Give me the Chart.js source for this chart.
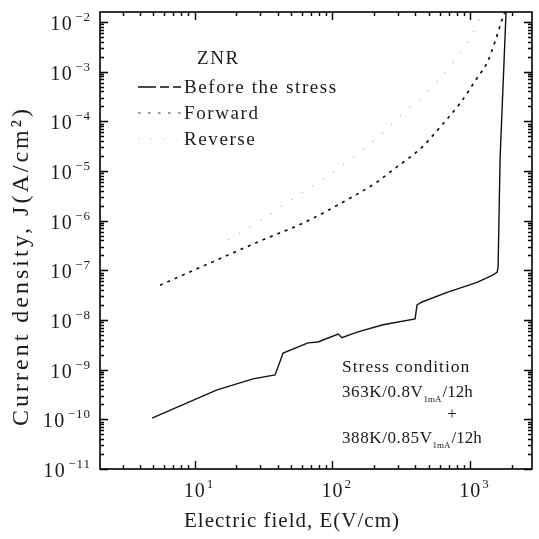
<!DOCTYPE html>
<html>
<head>
<meta charset="utf-8">
<script src="https://cdn.jsdelivr.net/npm/chart.js@4.4.1/dist/chart.umd.min.js"></script>
<style>
  html, body { margin: 0; padding: 0; background: #fff; }
  #wrap { width: 539px; height: 539px; position: relative; }
</style>
</head>
<body>
<div id="wrap"><canvas id="c" width="539" height="539"></canvas></div>
<script>
// Electric field E (V/cm) and current density J (A/cm^2) for the ZNR sample
const fieldBefore = [4.89, 14.5, 26.5, 38.3, 43.8, 66.4, 78.5, 110, 117, 151, 233, 398, 411, 447, 679, 1122, 1442, 1568, 1594, 1648, 1821];
const jBefore     = [1.06e-10, 3.9e-10, 6.5e-10, 7.8e-10, 2.15e-9, 3.45e-9, 3.6e-9, 5.2e-9, 4.4e-9, 5.7e-9, 8.0e-9, 1.05e-8, 2.0e-8, 2.3e-8, 3.6e-8, 5.7e-8, 7.9e-8, 9.1e-8, 1.15e-7, 1.8e-5, 1.58e-2];

const fieldForward = [5.59, 12.9, 31.3, 61.1, 119, 211, 262, 384, 447, 604, 844, 1122, 1326, 1515, 1703, 1791];
const jForward     = [5.0e-8, 1.4e-7, 4.1e-7, 8.9e-7, 2.35e-6, 6.0e-6, 9.5e-6, 2.1e-5, 3.0e-5, 7.6e-5, 2.3e-4, 7.4e-4, 1.5e-3, 4.0e-3, 1.1e-2, 1.58e-2];

const fieldReverse = [17.4, 26.1, 61.1, 91.2, 136, 187, 275, 320, 470, 1122, 1219];
const jReverse     = [4.1e-7, 7.8e-7, 3.8e-6, 7.6e-6, 1.74e-5, 3.5e-5, 9.1e-5, 1.4e-4, 3.5e-4, 8.7e-3, 1.58e-2];

const seriesNames = ['Before the stress', 'Forward', 'Reverse'];
const legendTitle = 'ZNR';

// Decade exponents that carry a "10^n" label
const xTickPowers = [1, 2, 3];
const yTickPowers = [-2, -3, -4, -5, -6, -7, -8, -9, -10, -11];

const xTitle = 'Electric field, E(V/cm)';
const yTitle = 'Current density, J(A/cm\u00B2)';

const noteTitle = 'Stress condition';
const noteLine1 = ['363K/0.8V', '1mA', '/12h'];
const noteJoin = '+';
const noteLine2 = ['388K/0.85V', '1mA', '/12h'];

const SERIF = '"Liberation Serif", "DejaVu Serif", serif';

function pts(xs, ys) { return xs.map((x, i) => ({ x: x, y: ys[i] })); }

const lineStyles = [
  { color: '#111', width: 1.4, dash: [] },
  { color: '#111', width: 1.7, dash: [3, 5] },
  { color: 'rgba(0,0,0,0.25)', width: 1.2, dash: [1.5, 11] }
];
const legendDash = [[18, 4, 9, 4], [2.5, 7.5], [1.5, 11]];
const legendColor = ['#111', 'rgba(0,0,0,0.55)', 'rgba(0,0,0,0.2)'];

// Frame, inward ticks on all four sides, and tick labels as 10^n
const frameTicks = {
  id: 'frameTicks',
  afterDraw(chart) {
    const { ctx, chartArea: a, scales } = chart;
    const xs = scales.x, ys = scales.y;
    ctx.save();
    ctx.strokeStyle = '#000';
    ctx.lineWidth = 1.6;
    ctx.setLineDash([]);
    ctx.strokeRect(a.left, a.top, a.right - a.left, a.bottom - a.top);

    ctx.lineWidth = 1.4;
    ctx.beginPath();
    const xd0 = Math.floor(Math.log10(xs.min)), xd1 = Math.ceil(Math.log10(xs.max));
    for (let d = xd0; d <= xd1; d++) {
      for (let m = 1; m <= 9; m++) {
        const v = m * Math.pow(10, d);
        if (v < xs.min || v > xs.max) continue;
        const p = Math.round(xs.getPixelForValue(v)) + 0.5;
        const len = m === 1 ? 8 : 4;
        ctx.moveTo(p, a.bottom); ctx.lineTo(p, a.bottom - len);
        ctx.moveTo(p, a.top); ctx.lineTo(p, a.top + len);
      }
    }
    const yd0 = Math.floor(Math.log10(ys.min)), yd1 = Math.ceil(Math.log10(ys.max));
    for (let d = yd0; d <= yd1; d++) {
      for (let m = 1; m <= 9; m++) {
        const v = m * Math.pow(10, d);
        if (v < ys.min * 0.999 || v > ys.max) continue;
        const p = Math.round(ys.getPixelForValue(v)) + 0.5;
        const len = m === 1 ? 8 : 4;
        ctx.moveTo(a.left, p); ctx.lineTo(a.left + len, p);
        ctx.moveTo(a.right, p); ctx.lineTo(a.right - len, p);
      }
    }
    ctx.stroke();

    // tick labels
    ctx.fillStyle = '#1a1a1a';
    ctx.textBaseline = 'alphabetic';
    const big = '20px ' + SERIF, small = '13px ' + SERIF;
    xTickPowers.forEach(n => {
      const p = xs.getPixelForValue(Math.pow(10, n));
      ctx.font = big; ctx.textAlign = 'center';
      ctx.letterSpacing = '1px';
      ctx.fillText('10', p, 497);
      const w = ctx.measureText('10').width;
      ctx.letterSpacing = '0px';
      ctx.font = small; ctx.textAlign = 'left';
      ctx.fillText(String(n), p + w / 2 + 1, 488);
    });
    yTickPowers.forEach(n => {
      const p = ys.getPixelForValue(Math.pow(10, n));
      const exp = '\u2212' + String(-n);
      ctx.font = small; ctx.textAlign = 'right';
      ctx.letterSpacing = '1px';
      const right = a.left - 9;
      ctx.fillText(exp, right, p - 1);
      const we = ctx.measureText(exp).width;
      ctx.letterSpacing = '1.5px';
      ctx.font = big;
      ctx.fillText('10', right - we - 2, p + 8);
    });
    ctx.letterSpacing = '0px';

    // axis titles
    ctx.letterSpacing = '1px';
    ctx.font = '21px ' + SERIF;
    ctx.textAlign = 'center';
    ctx.textBaseline = 'middle';
    ctx.fillText(xTitle, 292, 521);
    ctx.save();
    ctx.translate(22, 266);
    ctx.rotate(-Math.PI / 2);
    ctx.font = '24px ' + SERIF;
    ctx.letterSpacing = '3px';
    ctx.fillText(yTitle, 0, 0);
    ctx.restore();

    // legend block
    ctx.letterSpacing = '1.6px';
    ctx.font = '19px ' + SERIF;
    ctx.textAlign = 'left';
    ctx.fillText(legendTitle, 197, 59);
    const rows = [88, 114, 140];
    seriesNames.forEach((name, i) => {
      const st = lineStyles[i];
      ctx.save();
      ctx.strokeStyle = legendColor[i];
      ctx.lineWidth = st.width;
      ctx.setLineDash(legendDash[i]);
      ctx.beginPath();
      ctx.moveTo(138, rows[i] - 1);
      ctx.lineTo(181, rows[i] - 1);
      ctx.stroke();
      ctx.restore();
      ctx.fillText(name, 184, rows[i]);
    });

    // stress condition note
    const noteFont = '17px ' + SERIF;
    const drawSub = (parts, x, y) => {
      ctx.font = noteFont;
      ctx.letterSpacing = '0.6px';
      ctx.fillText(parts[0], x, y);
      let cx = x + ctx.measureText(parts[0]).width;
      ctx.font = '9px ' + SERIF;
      ctx.letterSpacing = '0px';
      ctx.fillText(parts[1], cx, y + 7);
      cx += ctx.measureText(parts[1]).width + 1;
      ctx.font = noteFont;
      ctx.fillText(parts[2], cx, y);
    };
    ctx.font = '17.5px ' + SERIF;
    ctx.letterSpacing = '1px';
    ctx.fillText(noteTitle, 342, 367);
    drawSub(noteLine1, 342, 393);
    ctx.font = noteFont;
    ctx.textAlign = 'center';
    ctx.fillText(noteJoin, 452, 415);
    ctx.textAlign = 'left';
    drawSub(noteLine2, 342, 439);
    ctx.restore();
  }
};

const datasets = [
  { label: seriesNames[0], data: pts(fieldBefore, jBefore) },
  { label: seriesNames[1], data: pts(fieldForward, jForward) },
  { label: seriesNames[2], data: pts(fieldReverse, jReverse) }
].map((d, i) => Object.assign(d, {
  borderColor: lineStyles[i].color,
  borderWidth: lineStyles[i].width,
  borderDash: lineStyles[i].dash,
  pointRadius: 0,
  fill: false,
  tension: 0,
  cubicInterpolationMode: i === 1 || i === 2 ? 'monotone' : 'default'
}));

new Chart(document.getElementById('c'), {
  type: 'line',
  data: { datasets },
  options: {
    responsive: false,
    animation: false,
    events: [],
    layout: { padding: { top: 12, right: 7, left: 0, bottom: 0 } },
    plugins: { legend: { display: false }, tooltip: { enabled: false } },
    scales: {
      x: {
        type: 'logarithmic', min: 2.05, max: 2810,
        grid: { display: false }, border: { display: false },
        ticks: { display: false },
        afterFit(s) { s.height = 70; }
      },
      y: {
        type: 'logarithmic', min: 1e-11, max: 0.0158,
        grid: { display: false }, border: { display: false },
        ticks: { display: false },
        afterFit(s) { s.width = 100; }
      }
    }
  },
  plugins: [frameTicks]
});
</script>
</body>
</html>
